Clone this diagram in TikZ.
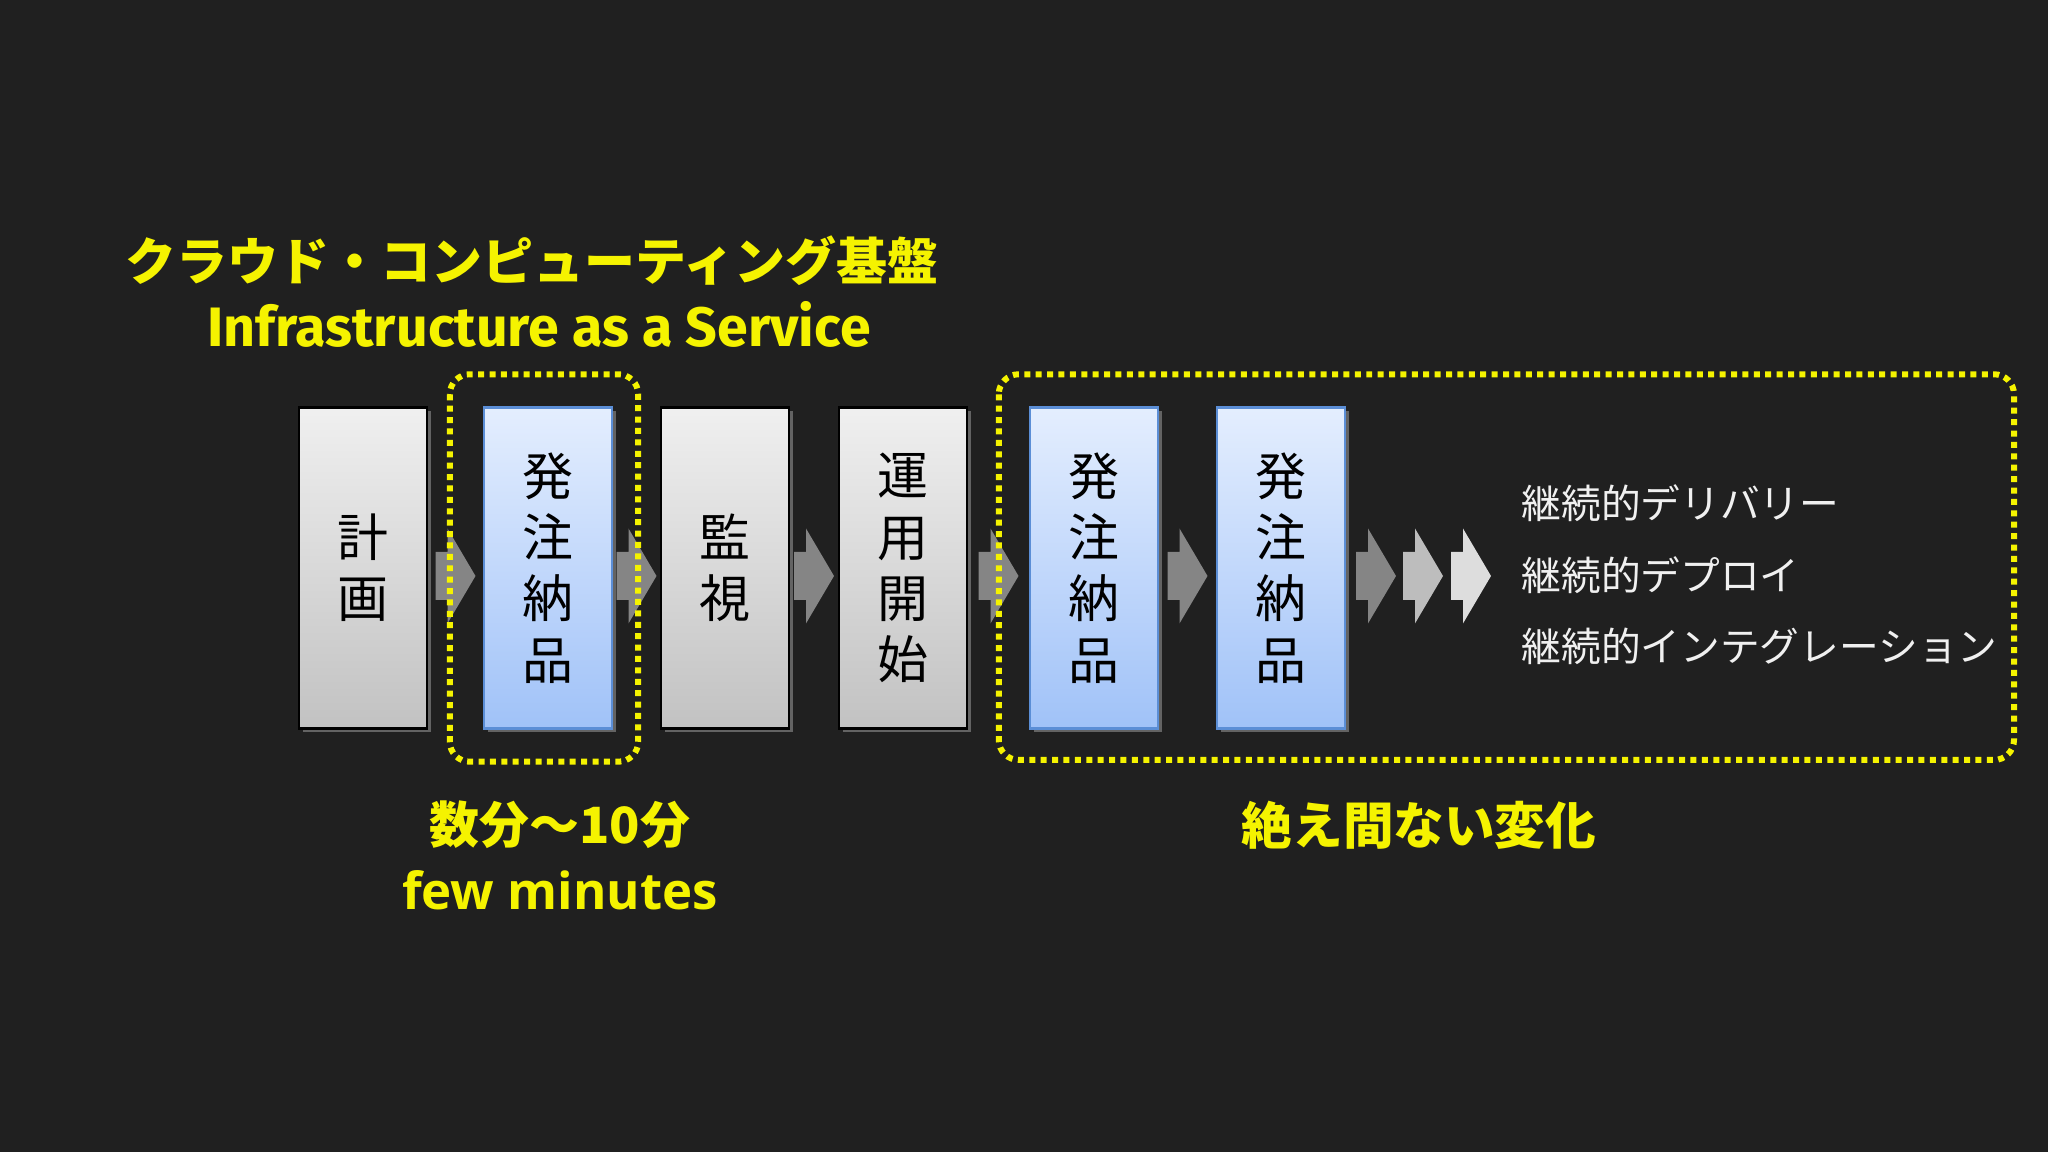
\documentclass[tikz,border=0pt]{standalone}
\usepackage{fontspec}
\setmainfont{Noto Sans CJK JP}
\newfontfamily\jp{Noto Sans CJK JP}
\newfontfamily\iaasfont{Fira Sans}
\newfontfamily\minfont{Open Sans}
\usetikzlibrary{calc,shadows}

\definecolor{bgdark}{HTML}{202020}
\definecolor{hiyel}{HTML}{F5F300}
\definecolor{arrgray}{HTML}{858585}
\definecolor{arrlight}{HTML}{BDBDBD}
\definecolor{arrpale}{HTML}{DDDDDD}
\definecolor{bluedge}{HTML}{5B8ED6}

\tikzset{
  box/.style={line width=0.7pt, minimum width=1.28cm, minimum height=3.21cm, inner sep=0pt,
    align=center, text=black, font=\jp\fontsize{14.5}{17.4}\selectfont,
    drop shadow={shadow xshift=0.04cm, shadow yshift=-0.04cm, opacity=0.7}},
  graybox/.style={box, draw=black, top color=white!94!black, bottom color=white!76!black},
  bluebox/.style={box, draw=bluedge, top color={rgb,255:red,228;green,238;blue,254}, bottom color={rgb,255:red,160;green,194;blue,248}},
  dotbox/.style={draw=hiyel, line width=0.06cm, dash pattern=on 0.06cm off 0.054cm, rounded corners=0.2cm},
  yeltxt/.style={text=hiyel, inner sep=0pt},
  citxt/.style={text=white!94!black, anchor=west, inner sep=0pt, font=\jp\fontsize{11.3}{13}\selectfont},
  chev/.pic={\fill[pic actions] (-0.20,-0.24) -- (-0.08,-0.24) -- (-0.08,-0.475) -- (0.20,0)
    -- (-0.08,0.475) -- (-0.08,0.24) -- (-0.20,0.24) -- cycle;}
}

\begin{document}
\begin{tikzpicture}
  \useasboundingbox (0,0) rectangle (20.48,11.52);
  \fill[bgdark] (0,0) rectangle (20.48,11.52);

  % headings
  \node[yeltxt, font=\jp\bfseries\fontsize{14.5}{17}\selectfont] (cloud) at (5.32,8.91) {クラウド・コンピューティング基盤};
  \node[yeltxt, font=\iaasfont\bfseries\fontsize{15.8}{18}\selectfont] (iaas) at (5.39,8.28) {Infrastructure as a Service};

  % process boxes
  \node[graybox] (plan) at (3.63,5.84) {計\\画};
  \node[bluebox] (ord1) at (5.48,5.84) {発\\注\\納\\品};
  \node[graybox] (watch) at (7.25,5.84) {監\\視};
  \node[graybox] (start) at (9.03,5.84) {運\\用\\開\\始};
  \node[bluebox] (ord2) at (10.94,5.84) {発\\注\\納\\品};
  \node[bluebox] (ord3) at (12.81,5.84) {発\\注\\納\\品};

  \pic[fill=arrgray] at ($(plan.east)!.5!(ord1.west)+(0,-0.08)$) {chev};
  \pic[fill=arrgray] at ($(ord1.east)!.5!(watch.west)+(0,-0.08)$) {chev};
  \pic[fill=arrgray] at ($(watch.east)!.5!(start.west)+(0,-0.08)$) {chev};
  \pic[fill=arrgray] at ($(start.east)!.5!(ord2.west)+(0,-0.08)$) {chev};
  \pic[fill=arrgray] at ($(ord2.east)!.5!(ord3.west)+(0,-0.08)$) {chev};
  \pic[fill=arrgray] at (13.76,5.76) {chev};
  \pic[fill=arrlight] at (14.23,5.76) {chev};
  \pic[fill=arrpale] at (14.71,5.76) {chev};

  \node[citxt] (cd) at (15.21,6.49) {継続的デリバリー};
  \node[citxt] (cdep) at (15.21,5.77) {継続的デプロイ};
  \node[citxt] (ci) at (15.21,5.06) {継続的インテグレーション};

  % dotted frames
  \draw[dotbox] ($(ord1.north west)+(-0.33,0.32)$) rectangle ($(ord1.south east)+(0.25,-0.32)$);
  \coordinate (rim) at (20.14,3.92);
  \draw[dotbox] ($(ord2.north west)+(-0.30,0.32)$) rectangle (rim);

  % captions
  \node[yeltxt, font=\jp\bfseries\fontsize{14.2}{17}\selectfont] (mins) at (5.60,3.27) {数分〜10分};
  \node[yeltxt, font=\minfont\bfseries\fontsize{14.5}{17}\selectfont] (few) at (5.60,2.62) {few minutes};
  \node[yeltxt, font=\jp\bfseries\fontsize{14.4}{17}\selectfont] (change) at (14.19,3.27) {絶え間ない変化};
\end{tikzpicture}
\end{document}
